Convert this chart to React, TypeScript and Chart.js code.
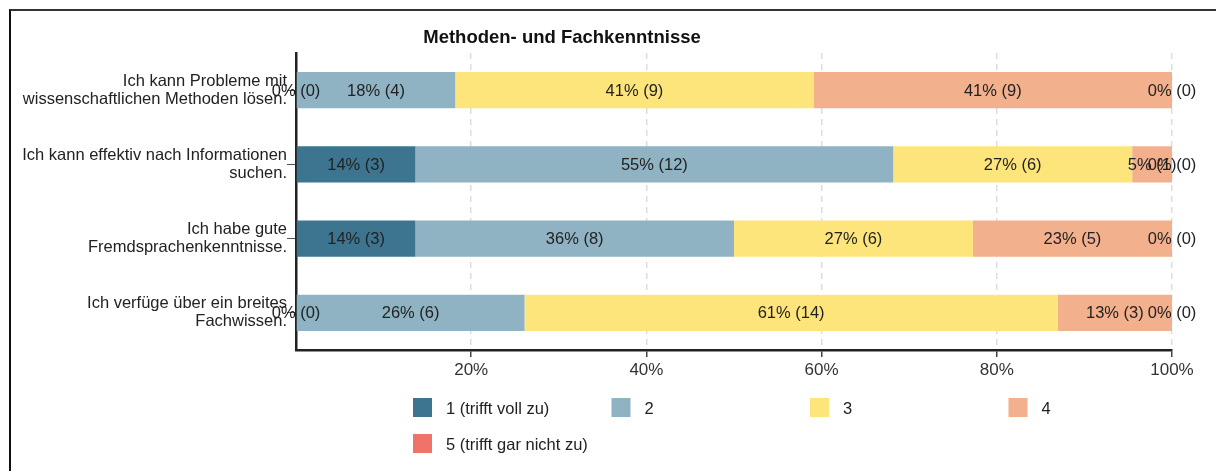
import React, { useEffect, useRef } from "react";
import { Chart, registerables } from "chart.js";

Chart.register(...registerables);

const TITLE = "Methoden- und Fachkenntnisse";
const categories: string[][] = [
  ["Ich kann Probleme mit", "wissenschaftlichen Methoden lösen."],
  ["Ich kann effektiv nach Informationen", "suchen."],
  ["Ich habe gute", "Fremdsprachenkenntnisse."],
  ["Ich verfüge über ein breites", "Fachwissen."],
];
const seriesLabels = ["1 (trifft voll zu)", "2", "3", "4", "5 (trifft gar nicht zu)"];
const seriesColors = ["#3d7590", "#8fb3c3", "#fee57b", "#f2b08d", "#ef7368"];
// answer counts per category, one array per answer option
const counts1 = [0, 3, 3, 0];
const counts2 = [4, 12, 8, 6];
const counts3 = [9, 6, 6, 14];
const counts4 = [9, 1, 5, 3];
const counts5 = [0, 0, 0, 0];
const xTickValues = [0, 20, 40, 60, 80, 100];

const FONT = "'Liberation Sans', Arial, sans-serif";
const W = 1213;
const H = 461;

export default function App() {
  const ref = useRef<HTMLCanvasElement | null>(null);

  useEffect(() => {
    document.body.style.overflow = "hidden";
    const canvas = ref.current;
    if (!canvas) return;
    const allCounts = [counts1, counts2, counts3, counts4, counts5];
    const totals = categories.map((_, i) => allCounts.reduce((s, c) => s + c[i], 0));

    const datasets = allCounts.map((c, k) => ({
      label: seriesLabels[k],
      data: c.map((v, i) => (v / totals[i]) * 100),
      counts: c,
      backgroundColor: seriesColors[k],
      borderWidth: 0,
      barPercentage: 0.485,
      categoryPercentage: 1,
    }));

    const titlePlugin = {
      id: "customTitle",
      afterDraw(chart: any) {
        const ctx = chart.ctx;
        ctx.save();
        ctx.font = `bold 18.5px ${FONT}`;
        ctx.fillStyle = "#111";
        ctx.textAlign = "center";
        ctx.textBaseline = "middle";
        ctx.fillText(TITLE, 551, 27);
        ctx.restore();
      },
    };

    const labelPlugin = {
      id: "barLabels",
      afterDatasetsDraw(chart: any) {
        const ctx = chart.ctx;
        ctx.save();
        ctx.font = `16.5px ${FONT}`;
        ctx.fillStyle = "#222";
        ctx.textAlign = "center";
        ctx.textBaseline = "middle";
        chart.data.datasets.forEach((ds: any, di: number) => {
          const meta = chart.getDatasetMeta(di);
          meta.data.forEach((el: any, i: number) => {
            const p = el.getProps(["x", "base", "y"], true);
            const cx = (p.x + p.base) / 2;
            const pct = Math.round(ds.data[i]);
            ctx.fillText(`${pct}% (${ds.counts[i]})`, cx, p.y + 1);
          });
        });
        ctx.restore();
      },
    };

    const legendPlugin = {
      id: "gridLegend",
      afterDraw(chart: any) {
        const ctx = chart.ctx;
        ctx.save();
        ctx.font = `16.5px ${FONT}`;
        ctx.textAlign = "left";
        ctx.textBaseline = "middle";
        chart.data.datasets.forEach((ds: any, k: number) => {
          const col = k % 4;
          const row = Math.floor(k / 4);
          const x = 402 + col * 198.5;
          const y = 387 + row * 36;
          ctx.fillStyle = ds.backgroundColor;
          ctx.fillRect(x, y, 19, 19);
          ctx.fillStyle = "#222";
          ctx.fillText(ds.label, x + 33, y + 11);
        });
        ctx.restore();
      },
    };

    const chart = new Chart(canvas, {
      type: "bar",
      data: { labels: categories, datasets: datasets as any },
      options: {
        indexAxis: "y",
        responsive: false,
        animation: false,
        devicePixelRatio: 1,
        layout: { padding: { top: 42, right: 52, left: 0, bottom: 0 } },
        plugins: {
          legend: { display: false },
          title: { display: false },
          tooltip: { enabled: false },
        },
        scales: {
          x: {
            stacked: true,
            min: 0,
            max: 100,
            afterBuildTicks(scale: any) {
              scale.ticks = xTickValues.map((v) => ({ value: v }));
            },
            afterFit(scale: any) {
              scale.height = H - 339;
            },
            ticks: {
              padding: 3,
              color: "#333",
              font: { size: 17, family: FONT },
              callback: (v: any) => (Number(v) === 0 ? "" : `${v}%`),
            },
            grid: {
              drawOnChartArea: true,
              color: (c: any) => (c.tick && c.tick.value === 0 ? "rgba(0,0,0,0)" : "#dddddd"),
              lineWidth: 1.5,
              tickColor: (c: any) => (c.tick && c.tick.value === 0 ? "rgba(0,0,0,0)" : "#444"),
              tickLength: 7,
              tickWidth: 1.5,
              tickBorderDash: [],
            },
            border: { display: true, color: "#222", width: 2.5, dash: [6, 5] },
          },
          y: {
            stacked: true,
            afterFit(scale: any) {
              scale.width = 285;
            },
            ticks: {
              padding: 0,
              color: "#222",
              font: { size: 16.5, family: FONT, lineHeight: 1.1 },
            },
            grid: {
              offset: false,
              drawOnChartArea: false,
              drawTicks: true,
              tickLength: 9,
              tickColor: "#555",
              tickWidth: 1,
            },
            border: { display: true, color: "#222", width: 2.5 },
          },
        },
      },
      plugins: [titlePlugin, labelPlugin, legendPlugin],
    });
    return () => chart.destroy();
  }, []);

  return (
    <div
      style={{
        position: "relative",
        top: 1,
        left: 1,
        width: W,
        height: H,
        borderTop: "2px solid #333",
        borderLeft: "2px solid #111",
        background: "#fff",
      }}
    >
      <canvas ref={ref} width={W} height={H} style={{ display: "block", width: W, height: H }} />
    </div>
  );
}
